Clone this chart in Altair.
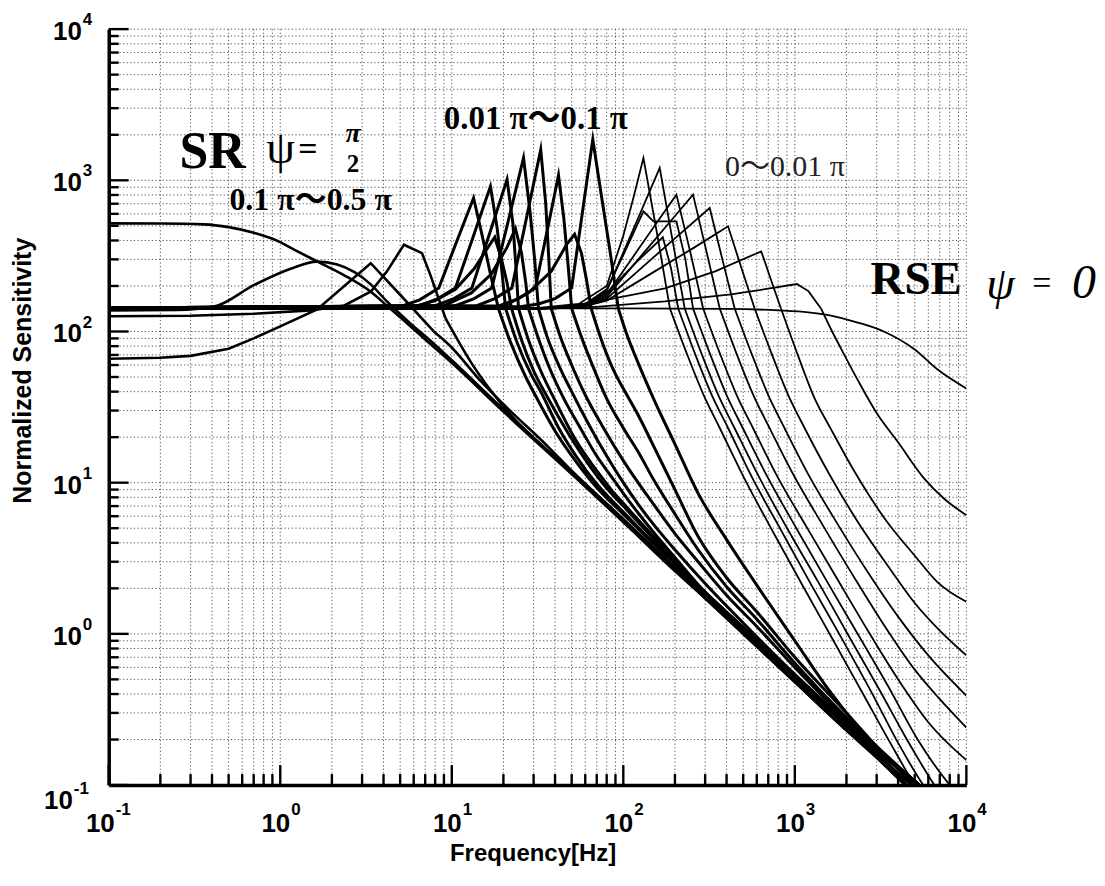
import altair as alt
import pandas as pd

# ---------------- axis ticks / labels ----------------
DECADES = [0.1, 1, 10, 100, 1000, 10000]
EXPONENTS = ["-1", "0", "1", "2", "3", "4"]
MANTISSAS = [2, 3, 4, 5, 6, 7, 8, 9]

# ---------------- curves: (frequency [Hz], normalized sensitivity) ----------------
# common high-frequency tails (1/f asymptote bundle)
TAIL_LOW = [(300, 1.72), (500, 1.0), (1000, 0.48), (2000, 0.23), (3000, 0.152), (4400, 0.1), (5200, 0.084)]
TAIL_MID = [(300, 1.8), (500, 1.05), (1000, 0.505), (2000, 0.243), (3000, 0.16), (4800, 0.1), (5600, 0.086)]
TAIL_HIGH = [(300, 1.88), (500, 1.1), (1000, 0.53), (2000, 0.257), (3000, 0.17), (5300, 0.1), (6000, 0.088)]

# group 0.1pi ~ 0.5pi (SR side)
A_SR = [(0.1, 519), (0.2, 518), (0.36, 511), (0.5, 490), (0.71, 448), (1.0, 390), (1.16, 356), (1.64, 291),
        (2.35, 236), (3.37, 183), (4.19, 148), (5.5, 113), (7.86, 79), (10, 62), (20, 29.5), (50, 11.4),
        (100, 5.5), (200, 2.65)]
A_2 = [(0.1, 138), (0.25, 139), (0.41, 146), (0.71, 204), (1.15, 260), (1.64, 290), (2.15, 277), (3.37, 205),
       (4.19, 158), (5.5, 118), (7.86, 83), (10, 64.5), (20, 30.5), (50, 11.6), (100, 5.5), (200, 2.6)]
A_3 = [(0.1, 66), (0.2, 67), (0.3, 69), (0.5, 77), (0.7, 90), (1.0, 108), (1.64, 140), (2.3, 195), (3.37, 283),
       (5, 175), (7.85, 100), (9.6, 82), (15, 46), (20, 33), (36.6, 17.2), (50, 12), (100, 5.75), (200, 2.75)]
A_4 = [(0.1, 126), (0.3, 127), (0.7, 131), (1.5, 138), (2.35, 148), (3.38, 184), (4.19, 250), (5.26, 375),
       (6.7, 330), (7.5, 237), (9.2, 122), (13, 62), (19.5, 33), (50, 11.8), (100, 5.7), (200, 2.75)]

# group 0.01pi ~ 0.1pi
B_1 = [(0.1, 143), (5, 146), (6.5, 162), (8.4, 194), (10.6, 385), (13.4, 764), (15, 437), (16.8, 240),
       (18.7, 142), (22, 85), (27, 50), (31, 37), (40, 22), (53, 13.8), (70, 9.3), (85, 7.4), (100, 6.2),
       (150, 3.95), (200, 2.9)]
B_2 = [(0.1, 143), (6, 146), (8, 160), (10.5, 190), (13.5, 260), (16, 350), (17.8, 420), (19.5, 300),
       (21, 210), (22.3, 142), (25.5, 88), (30, 55), (36, 37), (48, 21), (65, 12.5), (85, 8.5), (100, 7),
       (150, 4.25), (200, 3.0)]
B_3 = [(0.1, 143), (6.5, 148), (8.3, 165), (10.5, 194), (13.3, 420), (16.8, 912), (18.4, 480), (19.6, 250),
       (20.6, 142), (24, 85), (29, 52), (33, 40), (42, 23), (53, 15), (70, 9.8), (85, 7.7), (100, 6.4),
       (150, 4.0), (200, 2.95)]
B_4 = [(0.1, 143), (8, 148), (10.3, 165), (13.1, 194), (16.6, 443), (21, 1011), (22.7, 520), (23.7, 260),
       (24.5, 142), (28, 88), (33, 55), (40, 35), (53, 19), (70, 12), (85, 9), (100, 7.3), (150, 4.4), (200, 3.1)]
B_5 = [(0.1, 143), (9, 148), (13, 180), (17, 240), (21, 360), (23.5, 480), (25.5, 330), (27, 210), (28, 142),
       (32, 90), (37, 58), (45, 36), (55, 24), (70, 15), (85, 11), (100, 8.5), (122, 6.3), (150, 4.7), (200, 3.2)]
B_6 = [(0.1, 143), (10.5, 148), (13.5, 165), (17.1, 194), (21.2, 522), (26.2, 1405), (28.6, 620), (30.5, 290),
       (32, 142), (36, 92), (42, 60), (50, 40), (62, 25), (80, 15), (100, 10), (122, 7.2), (150, 5.3),
       (200, 3.6), (300, 2.15), (500, 1.18), (1000, 0.54), (2000, 0.26), (3000, 0.17), (5300, 0.1), (6000, 0.088)]
B_7 = [(0.1, 143), (14, 148), (17.8, 165), (22.4, 194), (27.2, 557), (33, 1597), (35.3, 700), (36.8, 300),
       (38, 142), (43, 92), (50, 60), (60, 38), (75, 24), (100, 14), (122, 10), (150, 7.2), (200, 4.6),
       (273, 3.0), (400, 1.8), (600, 1.12), (1000, 0.6), (2000, 0.27), (3000, 0.175), (5300, 0.1), (6000, 0.088)]
B_8 = [(0.1, 143), (19, 148), (24.5, 165), (30.7, 194), (35.9, 458), (41.9, 1080), (45, 560), (47.6, 280),
       (50, 142), (57, 92), (66, 60), (80, 36), (100, 23), (122, 16), (150, 10.5), (200, 6.2), (273, 3.6),
       (400, 2.05), (600, 1.25), (1000, 0.64), (2000, 0.28), (3000, 0.18), (5300, 0.1), (6000, 0.088)]
B_9 = [(0.1, 143), (20, 146), (28, 180), (38, 250), (47, 380), (52, 440), (57, 330), (61, 220), (65, 142),
       (74, 90), (88, 55), (105, 38), (122, 28), (150, 17.5), (200, 9), (273, 4.4), (400, 2.35), (600, 1.4),
       (1000, 0.7), (2000, 0.3), (3000, 0.18), (5000, 0.1), (6000, 0.085)]
B_10 = [(0.1, 143), (25, 146), (32, 152), (40, 165), (50, 194), (57.6, 600), (66.4, 1860), (74, 835), (84, 330),
        (93.5, 142), (105, 95), (122, 62), (150, 36), (200, 18), (273, 8.5), (400, 4.2), (600, 2.1), (1000, 0.9),
        (1500, 0.46), (2000, 0.3), (3000, 0.17), (4500, 0.1), (5500, 0.08)]

# group 0 ~ 0.01pi
C_1 = [(0.1, 141), (30, 142), (55, 152), (80, 200), (100, 430), (115, 780), (131, 1405), (157, 450), (187, 142),
       (234, 72), (294, 38), (365, 23), (505, 10.8), (748, 4.7), (1120, 2.05), (1680, 0.9), (2500, 0.4),
       (3600, 0.19), (5000, 0.1), (6500, 0.065)]
C_2 = [(0.1, 141), (35, 142), (60, 152), (80, 180), (120, 290), (170, 420), (190, 260), (209, 142), (261, 72),
       (328, 38), (408, 23), (564, 10.8), (835, 4.8), (1250, 2.1), (1880, 0.93), (2800, 0.41), (4000, 0.19),
       (5600, 0.1), (7000, 0.07)]
C_3 = [(0.1, 141), (35, 142), (60, 152), (80, 185), (110, 428), (135, 733), (163, 1207), (193, 410), (228, 142),
       (285, 72), (358, 38), (445, 23), (616, 11), (910, 4.9), (1370, 2.2), (2050, 0.98), (3100, 0.43),
       (4500, 0.2), (6500, 0.1), (8000, 0.07)]
C_4 = [(0.1, 141), (35, 142), (60, 152), (80, 190), (100, 320), (131, 623), (150, 535), (204, 535), (230, 300),
       (255, 142), (319, 72), (400, 38), (497, 23), (690, 11), (1020, 5.0), (1530, 2.25), (2300, 1.02),
       (3500, 0.45), (5200, 0.2), (8000, 0.1), (10000, 0.075)]
C_5 = [(0.1, 141), (35, 142), (60, 150), (80, 175), (120, 339), (160, 542), (204, 804), (245, 340), (292, 142),
       (365, 72), (458, 38), (570, 23), (790, 11), (1170, 5.1), (1750, 2.35), (2600, 1.1), (4000, 0.5),
       (6000, 0.26), (10000, 0.146)]
C_6 = [(0.1, 141), (35, 142), (60, 149), (80, 170), (130, 326), (190, 542), (255, 804), (305, 340), (365, 142),
       (456, 72), (573, 38), (712, 23), (985, 11.2), (1460, 5.2), (2200, 2.4), (3300, 1.15), (5000, 0.58),
       (7000, 0.37), (10000, 0.24)]
C_7 = [(0.1, 141), (35, 142), (60, 148), (80, 165), (140, 289), (220, 454), (319, 656), (378, 300), (446, 142),
       (558, 72), (700, 38), (870, 23), (1200, 11.3), (1780, 5.3), (2700, 2.5), (4000, 1.3), (6000, 0.72),
       (10000, 0.39)]
C_8 = [(0.1, 141), (35, 142), (60, 147), (80, 160), (150, 247), (260, 360), (408, 496), (490, 260), (583, 142),
       (730, 72), (915, 38), (1140, 23), (1580, 11.5), (2330, 5.5), (3500, 2.8), (5000, 1.6), (7000, 1.05),
       (10000, 0.72)]
C_9 = [(0.1, 141), (40, 142), (72, 158), (175, 193), (343, 250), (637, 339), (730, 216), (830, 142), (1040, 70),
       (1306, 36), (1618, 22.8), (2232, 11.8), (3337, 5.8), (4990, 3.3), (6780, 2.2), (10000, 1.63)]
C_10 = [(0.1, 141), (40, 142), (72, 146), (175, 158), (425, 176), (700, 192), (1028, 206), (1200, 185),
        (1420, 142), (1650, 100), (1849, 78), (2321, 48), (3039, 28.2), (3972, 18.7), (5700, 10.6), (7450, 7.8),
        (10000, 6.1)]

# RSE, psi = 0
RSE_0 = [(0.1, 142), (100, 142), (400, 141), (800, 138), (1200, 134), (1600, 128), (2300, 115), (3300, 100),
         (5000, 76), (6800, 56), (10000, 42)]

# (name, points, line width, sharp peak?)
CURVES = [
    ("A_SR", A_SR + TAIL_LOW, 2.6, False), ("A_2", A_2 + TAIL_LOW, 2.6, False),
    ("A_3", A_3 + TAIL_MID, 2.6, True), ("A_4", A_4 + TAIL_MID, 2.6, True),
    ("B_1", B_1 + TAIL_HIGH, 3.0, True), ("B_2", B_2 + TAIL_HIGH, 3.0, True), ("B_3", B_3 + TAIL_HIGH, 3.0, True),
    ("B_4", B_4 + TAIL_HIGH, 3.0, True), ("B_5", B_5 + TAIL_HIGH, 3.0, True), ("B_6", B_6, 3.0, True),
    ("B_7", B_7, 3.0, True), ("B_8", B_8, 3.0, True), ("B_9", B_9, 3.0, True), ("B_10", B_10, 3.0, True),
    ("C_1", C_1, 1.8, True), ("C_2", C_2, 1.8, True), ("C_3", C_3, 1.8, True), ("C_4", C_4, 1.8, True),
    ("C_5", C_5, 1.8, True), ("C_6", C_6, 1.8, True), ("C_7", C_7, 1.8, True), ("C_8", C_8, 1.8, True),
    ("C_9", C_9, 1.8, True), ("C_10", C_10, 1.8, True),
    ("RSE_0", RSE_0, 1.8, False),
]

# sharp (straight) segments up to the flat-level crossing after the peak; smooth segments afterwards
sharp_rows, smooth_rows = [], []
for name, pts, w, sharp in CURVES:
    if sharp:
        vals = [v for _, v in pts]
        k = vals.index(max(vals))
        j = next(n for n in range(k + 1, len(pts)) if pts[n][1] <= 143)
        head, tail = pts[:j + 1], pts[j:]
    else:
        head, tail = [], pts
    for i, (f, v) in enumerate(head):
        sharp_rows.append({"c": name, "i": i, "f": f, "v": v, "w": w})
    for i, (f, v) in enumerate(tail):
        smooth_rows.append({"c": name, "i": i, "f": f, "v": v, "w": w})
sharp_df = pd.DataFrame(sharp_rows)
smooth_df = pd.DataFrame(smooth_rows)

GRID = [m * d for d in DECADES[:-1] for m in [1] + MANTISSAS] + [DECADES[-1]]
MINOR = [m * d for d in DECADES[:-1] for m in MANTISSAS]

# ---------------- styling ----------------
W, H = 860, 758
SANS = "Liberation Sans, Arial, sans-serif"
SERIF = "Liberation Serif, Noto Sans CJK JP, serif"
XS = alt.Scale(type="log", domain=[0.1, 10000], nice=False)
YS = alt.Scale(type="log", domain=[0.1, 10000], nice=False)

XAXIS = alt.Axis(domain=True, domainColor="black", domainWidth=3.5, ticks=False, labels=False, grid=False,
                 title="Frequency[Hz]", titleFont=SANS, titleFontSize=24, titleFontWeight="bold",
                 titleColor="black", titleX=425, titleY=76, titleAlign="center", titleBaseline="alphabetic",
                 zindex=2)
YAXIS = alt.Axis(domain=True, domainColor="black", domainWidth=3.5, ticks=False, labels=False, grid=False,
                 title="Normalized Sensitivity", titleFont=SANS, titleFontSize=25, titleFontWeight="bold",
                 titleColor="black", titleAngle=270, titleX=-78, titleY=342, titleAlign="center",
                 titleBaseline="alphabetic", zindex=2)


def xenc(field):
    return alt.X(field, scale=XS, axis=XAXIS)


def yenc(field):
    return alt.Y(field, scale=YS, axis=YAXIS)


grid_df = pd.DataFrame({"g": GRID})
minor_df = pd.DataFrame({"g": MINOR})
major_df = pd.DataFrame({"g": DECADES, "e": EXPONENTS})

grid_style = dict(color="#333333", strokeWidth=1.0, strokeDash=[1.2, 2.4], opacity=0.85)
gx = alt.Chart(grid_df).mark_rule(**grid_style).encode(
    x=xenc("g:Q"), y=alt.value(0), y2=alt.value(H))
gy = alt.Chart(grid_df).mark_rule(**grid_style).encode(
    y=yenc("g:Q"), x=alt.value(0), x2=alt.value(W))

tick_style = dict(color="black", strokeWidth=2.4)
ty_min = alt.Chart(minor_df).mark_rule(**tick_style).encode(
    y=yenc("g:Q"), x=alt.value(0), x2=alt.value(10))
ty_maj = alt.Chart(major_df).mark_rule(**tick_style).encode(
    y=yenc("g:Q"), x=alt.value(0), x2=alt.value(20))
tx_min = alt.Chart(minor_df).mark_rule(**tick_style).encode(
    x=xenc("g:Q"), y=alt.value(H), y2=alt.value(H - 11))
tx_maj = alt.Chart(major_df).mark_rule(**tick_style).encode(
    x=xenc("g:Q"), y=alt.value(H), y2=alt.value(H - 20))

line_enc = dict(
    x=xenc("f:Q"),
    y=yenc("v:Q"),
    detail="c:N",
    order="i:Q",
    strokeWidth=alt.StrokeWidth("w:Q", scale=None, legend=None),
    color=alt.value("black"),
)
lines_sharp = alt.Chart(sharp_df).mark_line(clip=True, strokeJoin="miter", strokeMiterLimit=20).encode(**line_enc)
lines_smooth = alt.Chart(smooth_df).mark_line(clip=True, interpolate="monotone").encode(**line_enc)

pos_df = major_df[major_df["g"] > 0.5]
neg_df = major_df[major_df["g"] < 0.5]
lab = dict(font=SANS, fontWeight="bold", color="black", baseline="alphabetic")

x10 = alt.Chart(pos_df).mark_text(text="10", fontSize=26, align="right", dx=10, **lab).encode(
    x=xenc("g:Q"), y=alt.value(H + 47))
xex = alt.Chart(pos_df).mark_text(fontSize=17, align="left", dx=11, **lab).encode(
    x=xenc("g:Q"), y=alt.value(H + 30), text="e:N")
x10n = alt.Chart(neg_df).mark_text(text="10", fontSize=26, align="right", dx=6, **lab).encode(
    x=xenc("g:Q"), y=alt.value(H + 47))
xexn = alt.Chart(neg_df).mark_text(fontSize=17, align="left", dx=7, **lab).encode(
    x=xenc("g:Q"), y=alt.value(H + 30), text="e:N")

y10 = alt.Chart(pos_df).mark_text(text="10", fontSize=26, align="right", dy=11, **lab).encode(
    y=yenc("g:Q"), x=alt.value(-27))
yex = alt.Chart(pos_df).mark_text(fontSize=17, align="left", dy=-4, **lab).encode(
    y=yenc("g:Q"), x=alt.value(-26), text="e:N")
y10n = alt.Chart(neg_df).mark_text(text="10", fontSize=26, align="right", dy=24, **lab).encode(
    y=yenc("g:Q"), x=alt.value(-36))
yexn = alt.Chart(neg_df).mark_text(fontSize=17, align="left", dy=9, **lab).encode(
    y=yenc("g:Q"), x=alt.value(-35), text="e:N")

ONE = pd.DataFrame({"k": [0]})


def note(s, x, y, size, weight="normal", style="normal", align="left", color="black", font=SERIF):
    return alt.Chart(ONE).mark_text(text=s, font=font, fontSize=size, fontWeight=weight, fontStyle=style,
                                    align=align, baseline="alphabetic", color=color).encode(
        x=alt.value(x), y=alt.value(y))


notes = [
    note("SR", 71, 139, 52, weight="bold"),
    note("ψ", 158, 134, 46),
    note("=", 190, 131, 34, weight="bold"),
    note("π", 245, 113, 28, weight="bold", style="italic", align="center"),
    note("2", 245, 143, 25, weight="bold", align="center"),
    note("0.1 π〜0.5 π", 121, 181, 32, weight="bold"),
    note("0.01 π〜0.1 π", 336, 100, 33, weight="bold"),
    note("0〜0.01 π", 618, 147, 30, color="#222"),
    note("RSE", 764, 266, 47, weight="bold"),
    note("ψ", 880, 271, 46, style="italic"),
    note("=", 926, 266, 34),
    note("0", 966, 270, 48, style="italic"),
]

chart = alt.layer(
    gx, gy, ty_min, ty_maj, tx_min, tx_maj, lines_smooth, lines_sharp,
    x10, xex, x10n, xexn, y10, yex, y10n, yexn, *notes
).properties(
    width=W, height=H,
    padding={"left": 101, "top": 20, "right": 131, "bottom": 82},
    autosize=alt.AutoSizeParams(type="none"),
    background="white",
).configure_view(stroke=None)

chart.save("out.html", embed_options={"renderer": "svg", "actions": False})
